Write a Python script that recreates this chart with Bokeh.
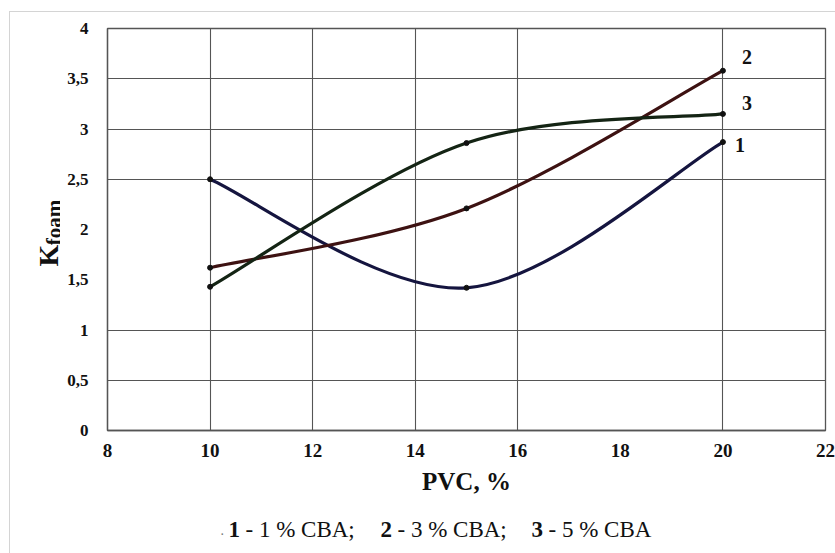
import math
from bokeh.plotting import figure
from bokeh.models import Label, FixedTicker, Range1d
from bokeh.layouts import row, column
from bokeh.core.properties import value
from bokeh.embed import file_html
from bokeh.resources import INLINE

# ---- data ----
pvc = [10, 15, 20]
k_1pct = [2.50, 1.42, 2.87]   # 1 % CBA
k_3pct = [1.62, 2.21, 3.58]   # 3 % CBA
k_5pct = [1.43, 2.86, 3.15]   # 5 % CBA
series_names = ["1", "2", "3"]

x_ticks = [8, 10, 12, 14, 16, 18, 20, 22]
x_tick_labels = ["8", "10", "12", "14", "16", "18", "20", "22"]
y_ticks = [0, 0.5, 1, 1.5, 2, 2.5, 3, 3.5, 4]
y_tick_labels = ["0", "0,5", "1", "1,5", "2", "2,5", "3", "3,5", "4"]
x_grid = [10, 12, 14, 16, 20]
y_grid = [0.5, 1, 2.5, 3, 3.5]

legend_nums = ["1", "2", "3"]
legend_texts = ["- 1 % CBA;", "- 3 % CBA;", "- 5 % CBA"]

FONT = "Liberation Serif"
colors = ["#15153f", "#3d1212", "#142414"]

W, H = 835, 553
LEFT_W = 60          # strip holding the rotated y title
BOTTOM_H = 43        # strip holding the legend line
MAIN_W, MAIN_H = W - LEFT_W, H - BOTTOM_H

# ---------------- main chart ----------------
p = figure(width=MAIN_W, height=MAIN_H, output_backend="svg", toolbar_location=None,
           x_range=Range1d(8, 22), y_range=Range1d(0, 4),
           min_border_left=107 - LEFT_W, min_border_right=10, min_border_top=28,
           min_border_bottom=MAIN_H - 430,
           background_fill_color="white", border_fill_color=None)

p.outline_line_color = "#555555"
p.outline_line_width = 1.3

p.xaxis.ticker = FixedTicker(ticks=x_ticks)
p.xaxis.major_label_overrides = {t: l for t, l in zip(x_ticks, x_tick_labels)}
p.yaxis.ticker = FixedTicker(ticks=y_ticks)
p.yaxis.major_label_overrides = {t: l for t, l in zip(y_ticks, y_tick_labels)}
for ax in (p.xaxis[0], p.yaxis[0]):
    ax.axis_line_color = "#555555"
    ax.axis_line_width = 1.3
    ax.major_tick_line_color = None
    ax.minor_tick_line_color = None
    ax.major_tick_out = 0
    ax.major_tick_in = 0
    ax.minor_tick_out = 0
    ax.major_label_text_font = FONT
    ax.major_label_text_font_style = "bold"
    ax.major_label_text_color = "#111111"
p.xaxis.major_label_text_font_size = "19px"
p.yaxis.major_label_text_font_size = "17px"
p.xaxis.major_label_standoff = 13
p.yaxis.major_label_standoff = 19
p.xaxis.axis_label = "PVC, %"
p.xaxis.axis_label_text_font = FONT
p.xaxis.axis_label_text_font_style = "bold"
p.xaxis.axis_label_text_font_size = "25px"
p.xaxis.axis_label_text_color = "#111111"
p.xaxis.axis_label_standoff = 8

p.xgrid.ticker = FixedTicker(ticks=x_grid)
p.ygrid.ticker = FixedTicker(ticks=y_grid)
for g in (p.xgrid[0], p.ygrid[0]):
    g.grid_line_color = "#555555"
    g.grid_line_width = 1.1

# smoothed curves (Catmull-Rom style Bezier through the data points)
def bezier_segments(xs, ys):
    n = len(xs)
    segs = dict(x0=[], y0=[], x1=[], y1=[], cx0=[], cy0=[], cx1=[], cy1=[])
    for i in range(n - 1):
        xp, yp = (xs[i - 1], ys[i - 1]) if i > 0 else (xs[i], ys[i])
        xn, yn = (xs[i + 2], ys[i + 2]) if i + 2 < n else (xs[i + 1], ys[i + 1])
        segs["x0"].append(xs[i]); segs["y0"].append(ys[i])
        segs["x1"].append(xs[i + 1]); segs["y1"].append(ys[i + 1])
        segs["cx0"].append(xs[i] + (xs[i + 1] - xp) / 6.0)
        segs["cy0"].append(ys[i] + (ys[i + 1] - yp) / 6.0)
        segs["cx1"].append(xs[i + 1] - (xn - xs[i]) / 6.0)
        segs["cy1"].append(ys[i + 1] - (yn - ys[i]) / 6.0)
    return segs

all_series = [k_1pct, k_3pct, k_5pct]
for ys, c in zip(all_series, colors):
    p.bezier(**bezier_segments(pvc, ys), line_color=c, line_width=3.2)
for ys in all_series:
    p.scatter(pvc, ys, size=5, color="#111111")

label_offsets = [(17, -3), (24, 14), (24, 11)]
for name, ys, (dx, dy) in zip(series_names, all_series, label_offsets):
    p.add_layout(Label(x=pvc[-1], y=ys[-1], x_offset=dx, y_offset=dy, text=name,
                       text_font=FONT, text_font_style="bold", text_font_size="20px",
                       text_color="#111111", text_align="center", text_baseline="middle"))

# ---------------- helper strips (pixel coordinates) ----------------
def strip(w, h):
    f = figure(width=w, height=h, output_backend="svg", toolbar_location=None,
               x_range=Range1d(0, w), y_range=Range1d(0, h),
               x_axis_location=None, y_axis_location=None,
               min_border=0, min_border_left=0, min_border_right=0,
               min_border_top=0, min_border_bottom=0,
               background_fill_color=None, border_fill_color=None)
    f.outline_line_color = None
    f.grid.visible = False
    return f

# y title: K with "foam" lowered, rotated
left = strip(LEFT_W, MAIN_H)
left.text(x=[48], y=[208], text=["K"], angle=math.pi / 2,
          text_font=value(FONT), text_font_style="bold", text_font_size="28px",
          text_color="#111111", text_align="left", text_baseline="alphabetic")
left.text(x=[53], y=[235], text=["foam"], angle=math.pi / 2,
          text_font=value(FONT), text_font_style="bold", text_font_size="21px",
          text_color="#111111", text_align="left", text_baseline="alphabetic")

# legend line under the chart
bottom = strip(W, BOTTOM_H)
base = 24
starts = [228, 380, 531]
bottom.text(x=[220], y=[base], text=["."], text_font=value(FONT), text_font_size="14px",
            text_color="#777777", text_baseline="alphabetic")
bottom.text(x=starts, y=[base] * 3, text=legend_nums, text_font=value(FONT),
            text_font_style="bold", text_font_size="23px", text_color="#111111",
            text_baseline="alphabetic")
bottom.text(x=[s + 17 for s in starts], y=[base] * 3, text=legend_texts,
            text_font=value(FONT), text_font_size="23px", text_color="#111111",
            text_baseline="alphabetic")

layout = column(row(left, p, spacing=0), bottom, spacing=0,
                styles={"background": "linear-gradient(#d4d4d4,#d4d4d4) 9px 11px / 1px 100% no-repeat, "
                                      "linear-gradient(#d4d4d4,#d4d4d4) 9px 11px / 100% 1px no-repeat, white"})

open("out.html", "w").write(file_html(layout, INLINE))
